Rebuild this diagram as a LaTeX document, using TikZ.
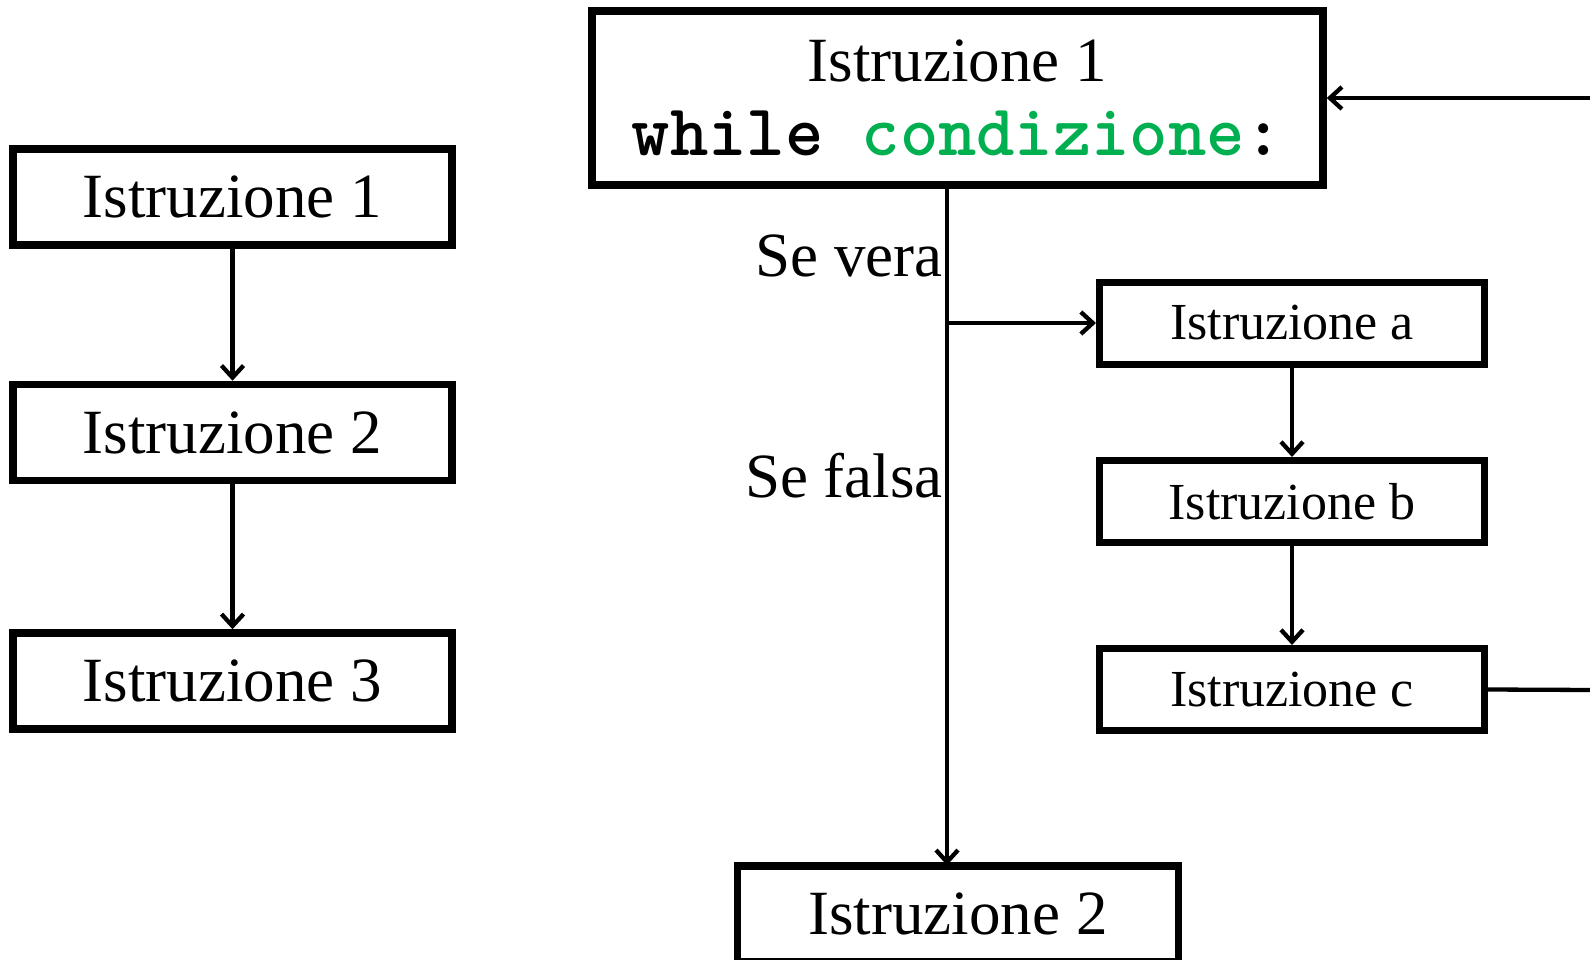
\documentclass[tikz,border=0pt]{standalone}
\usepackage{fontspec}
\setmainfont{Liberation Serif}
\usetikzlibrary{arrows.meta}
\definecolor{condgreen}{HTML}{00B050}
\begin{document}
\begin{tikzpicture}[x=1pt,y=-1pt,
  box/.style={draw, line width=7.5pt, inner sep=0pt, font=\fontsize{63}{70}\selectfont},
  sbox/.style={draw, line width=7pt, inner sep=0pt, minimum width=385pt, minimum height=82pt, font=\fontsize{52}{60}\selectfont},
  conn/.style={line width=4.3pt, -{Straight Barb[length=12pt,width=22pt,line width=4.3pt]}},
  plain/.style={line width=4.3pt},
  lbl/.style={inner sep=0pt, anchor=base east, font=\fontsize{63}{70}\selectfont}]
\useasboundingbox (0,0) rectangle (1590,960);
% left column
\node[box, minimum width=439pt, minimum height=96pt] (l1) at (232.5,197) {Istruzione 1};
\node[box, minimum width=439pt, minimum height=96pt] (l2) at (232.5,432.5) {Istruzione 2};
\node[box, minimum width=439pt, minimum height=96pt] (l3) at (232.5,681) {Istruzione 3};
\draw[conn] (l1.south) -- (l2.north);
\draw[conn] (l2.south) -- (l3.north);
% while
\node[box, minimum width=731pt, minimum height=174pt, align=center] (top) at (957.5,98)
  {Istruzione 1\\[4pt]{\fontsize{73}{70}\selectfont\ttfamily\bfseries while \textcolor{condgreen}{condizione}:}};
\node[box, minimum width=441pt, minimum height=96pt] (bot) at (958,914) {Istruzione 2};
\node[sbox] (a) at (1292,323) {Istruzione a};
\node[sbox] (b) at (1292,501.5) {Istruzione b};
\node[sbox] (c) at (1292,689.5) {Istruzione c};
\coordinate (j) at (947,323);
\coordinate (rt) at (1592,98);
\coordinate (rc) at (1592,690);
\draw[conn] (top.south -| j) -- ([yshift=-3pt]bot.north -| j);
\draw[conn] (j) -- (a.west);
\draw[conn] (a.south) -- (b.north);
\draw[conn] (b.south) -- (c.north);
\draw[plain] (c.east) -- (rc);
\draw[conn] (rt) -- (top.east);
\node[lbl] (sv) at (943,276) {Se vera};
\node[lbl] (sf) at (943,497) {Se falsa};
\end{tikzpicture}
\end{document}
